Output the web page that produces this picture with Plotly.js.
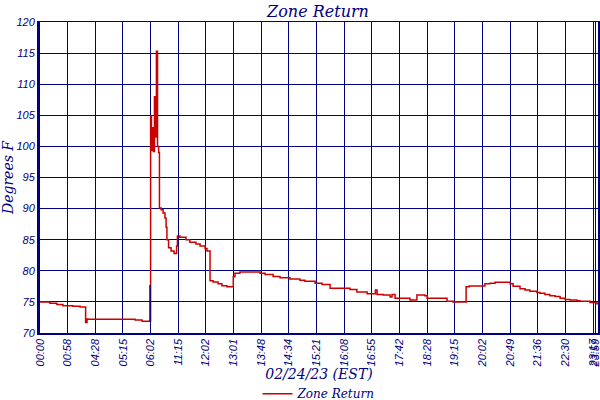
<!DOCTYPE html>
<html>
<head>
<meta charset="utf-8">
<script src="https://cdn.plot.ly/plotly-3.0.1.min.js"></script>
<style>
  html, body { margin: 0; padding: 0; background: #fff; }
  #chart { width: 600px; height: 400px; }
</style>
</head>
<body>
<div id="chart"></div>
<script>
// sample index along the (gapped) time axis, 10 samples per tick
const sampleIdx = [0, 3.6, 6.1, 8.3, 11.9, 14.5, 16.3, 16.5, 17.0, 17.4, 34.4, 36.9, 39.9,
  40.0, 40.3, 40.7, 41.0, 41.4, 41.8, 42.1, 42.5, 42.9, 43.2, 43.8, 44.5, 45.2, 45.6, 45.9,
  46.5, 47.4, 48.5, 49.4, 49.7, 50.6, 52.8, 54.2, 56.4, 57.9, 59.7, 60.4, 61.5, 62.6, 64.4,
  65.8, 67.6, 69.9, 70.5, 72.3, 78.5, 79.6, 81.4, 84.3, 86.8, 90.4, 94.0, 95.8, 99.5, 102.0,
  104.9, 112.1, 114.6, 118.3, 121.3, 121.9, 124.1, 126.6, 127.3, 128.4, 133.8, 136.3, 139.2,
  140.0, 147.2, 149.4, 153.7, 154.1, 155.2, 160.9, 162.7, 164.6, 166.4, 170.0, 171.1, 173.6,
  175.4, 177.2, 179.7, 180.8, 182.6, 184.4, 186.3, 188.1, 189.9, 191.7, 194.2, 195.3, 198.9,
  201.4, 201.8];
const zoneReturn = [75.0, 74.8, 74.6, 74.4, 74.3, 74.2, 74.2, 71.7, 72.25, 72.2, 72.1, 71.9, 71.9,
  104.9, 99.4, 103.0, 99.2, 108.0, 101.5, 115.3, 100.0, 99.0, 90.1, 89.8, 89.3, 88.5, 87.0, 85.0,
  83.7, 83.2, 82.8, 84.0, 85.6, 85.4, 85.0, 84.6, 84.3, 84.0, 83.6, 83.2, 78.4, 78.2, 77.9,
  77.6, 77.45, 79.05, 79.6, 79.8, 79.8, 79.6, 79.4, 79.1, 78.9, 78.7, 78.5, 78.3, 78.0, 77.8,
  77.2, 77.0, 76.6, 76.3, 76.9, 76.2, 76.1, 75.8, 76.2, 75.6, 75.3, 76.1, 76.0,
  75.6, 75.1, 75.0, 75.0, 77.45, 77.55, 77.9, 78.0, 78.15, 78.15, 77.9, 77.5, 77.1,
  76.9, 76.7, 76.5, 76.4, 76.2, 76.0, 75.85, 75.6, 75.4, 75.3, 75.2, 75.1, 74.9,
  74.7, 74.7];

// short navy marker where the data gap ends
const gapIdx = [39.8, 39.8];
const gapVal = [71.8, 77.7];

const tickIdx = [0, 10, 20, 30, 40, 50, 60, 70, 80, 90, 100, 110, 120, 130, 140, 150, 160, 170, 180, 190, 200, 200.9];
const tickText = ['00:00', '00:58', '04:28', '05:15', '06:02', '11:15', '12:02', '13:01', '13:48', '14:34',
  '15:21', '16:08', '16:55', '17:42', '18:28', '19:15', '20:02', '20:49', '21:36', '22:30', '23:17', '23:59'];

const navy = '#000080';
const red = '#cc0000';
const tickFont = {family: 'Liberation Sans, Arial, sans-serif', size: 11, color: navy, style: 'italic'};
const titleFont = {family: 'DejaVu Serif, serif', color: navy, style: 'italic'};

const traces = [
  {
    x: sampleIdx, y: zoneReturn,
    type: 'scatter', mode: 'lines', line: {color: red, width: 1.5, shape: 'hv'},
    name: 'Zone Return'
  },
  {
    x: gapIdx, y: gapVal,
    type: 'scatter', mode: 'lines', line: {color: navy, width: 1.5},
    showlegend: false, hoverinfo: 'skip'
  }
];

const layout = {
  width: 600, height: 400,
  margin: {l: 40, r: 2, t: 22, b: 67, autoexpand: false},
  paper_bgcolor: '#fff', plot_bgcolor: '#fff',
  title: {text: 'Zone Return', x: 0.53, xanchor: 'center', y: 0.985, yanchor: 'top',
    font: Object.assign({size: 16}, titleFont)},
  xaxis: {
    range: [0, 201.8], tickvals: tickIdx, ticktext: tickText, tickangle: -90,
    tickfont: tickFont, ticks: '', ticklabeloverflow: 'allow', automargin: false,
    showgrid: true, gridcolor: navy, gridwidth: 1,
    zeroline: false, showline: true, linecolor: navy, linewidth: 1.5, mirror: true,
    title: {text: '02/24/23 (EST)', font: Object.assign({size: 14}, titleFont), standoff: 0}
  },
  yaxis: {
    range: [70, 120], dtick: 5, tickfont: tickFont, ticks: '', automargin: false,
    showgrid: true, gridcolor: navy, gridwidth: 1, zeroline: false,
    showline: true, linecolor: navy, linewidth: 3, mirror: true,
    title: {text: 'Degrees F', font: Object.assign({size: 14}, titleFont), standoff: 6}
  },
  showlegend: true,
  legend: {orientation: 'h', x: 0.5, xanchor: 'center', y: -0.195, yanchor: 'middle',
    font: {family: 'DejaVu Serif, serif', size: 12, color: navy, style: 'italic'}}
};

Plotly.newPlot('chart', traces, layout, {displayModeBar: false, staticPlot: true});
</script>
</body>
</html>
